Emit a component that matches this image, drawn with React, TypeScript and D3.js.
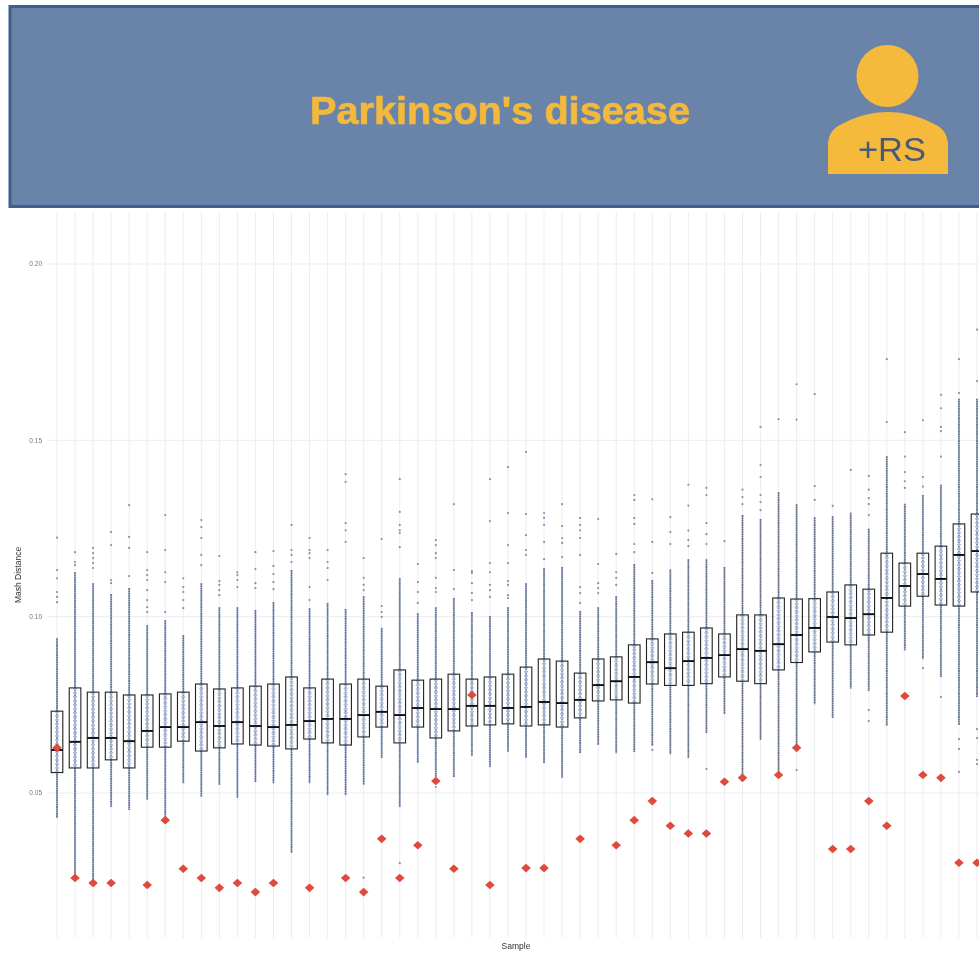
import React from "react";
import * as d3 from "d3";

const tickLabels = ["0.20", "0.15", "0.10", "0.05"];
const tickValues = [0.2, 0.15, 0.1, 0.05];

const q3 = [.0732,.0798,.0786,.0786,.0778,.0778,.0781,.0786,.0809,.0795,.0798,.0803,.0809,.0829,.0798,.0823,
  .0809,.0823,.0803,.0849,.0820,.0823,.0837,.0823,.0829,.0837,.0857,.0880,.0874,.0840,.0880,.0886,.0920,.0937,
  .0951,.0956,.0968,.0951,.1005,.1005,.1053,.1050,.1051,.1070,.1090,.1078,.1180,.1152,.1180,.1200,.1263,.1291];
const medians = [.0622,.0645,.0656,.0656,.0647,.0676,.0687,.0687,.0701,.0690,.0701,.0690,.0687,.0693,.0704,.0710,
  .0710,.0721,.0730,.0721,.0741,.0738,.0738,.0747,.0747,.0741,.0744,.0758,.0755,.0764,.0806,.0817,.0829,.0871,
  .0854,.0874,.0883,.0891,.0908,.0903,.0922,.0948,.0968,.0999,.0996,.1007,.1053,.1087,.1121,.1107,.1175,.1186];
const q1 = [.0558,.0571,.0571,.0594,.0571,.0630,.0630,.0647,.0619,.0628,.0639,.0636,.0633,.0625,.0653,.0642,
  .0636,.0659,.0687,.0642,.0687,.0656,.0676,.0690,.0693,.0696,.0690,.0693,.0687,.0713,.0761,.0764,.0755,.0809,
  .0805,.0805,.0810,.0829,.0817,.0810,.0849,.0870,.0900,.0928,.0920,.0948,.0956,.1030,.1058,.1033,.1030,.1070];
const whiskerHigh = [.0939,.1126,.1095,.1064,.1081,.0976,.0990,.0948,.1095,.1027,.1027,.1019,.1041,.1132,.1024,.1039,
  .1022,.1058,.0968,.1109,.1010,.1027,.1053,.1013,.1002,.1027,.1095,.1138,.1141,.1016,.1027,.1058,.1149,.1104,
  .1134,.1163,.1163,.1141,.1288,.1277,.1353,.1319,.1282,.1285,.1295,.1249,.1455,.1320,.1345,.1374,.1618,.1618];
const whiskerLow = [.0429,.0259,.0245,.0460,.0452,.0480,.0423,.0528,.0489,.0523,.0486,.0531,.0528,.0330,.0528,.0494,
  .0494,.0523,.0599,.0460,.0585,.0545,.0545,.0605,.0574,.0616,.0599,.0585,.0543,.0613,.0636,.0613,.0616,.0633,
  .0610,.0599,.0670,.0724,.0551,.0650,.0551,.0628,.0752,.0713,.0796,.0789,.0691,.0905,.0880,.0829,.0693,.0772];
const redDiamonds: (number | null)[] = [.0628,.0259,.0245,.0245,null,.0239,.0423,.0285,.0259,.0231,.0245,.0219,.0245,null,.0231,null,
  .0259,.0219,.0370,.0259,.0352,.0534,.0285,.0778,.0239,null,.0287,.0287,null,.0370,null,.0352,.0423,.0477,
  .0407,.0385,.0385,.0532,.0543,null,.0551,.0628,null,.0341,.0341,.0477,.0407,.0775,.0551,.0543,.0302,.0302];
const outliers: number[][] = [
  [.1224,.1132,.1109,.1070,.1056,.1041],[.1183,.1155,.1146],[.1195,.1180,.1166,.1152,.1138],[.1240,.1203,.1104,.1095],
  [.1316,.1226,.1195,.1115],[.1183,.1132,.1118,.1104,.1075,.1047,.1027,.1013],[.1288,.1189,.1126,.1098,.1013],
  [.1109,.1084,.1070,.1047,.1024],[.1274,.1254,.1223,.1175,.1146],[.1172,.1101,.1090,.1075,.1061],[.1126,.1118,.1104,.1084],
  [.1183,.1135,.1095,.1081],[.1186,.1144,.1121,.1098,.1078],[.1260,.1189,.1175,.1155],[.1223,.1189,.1180,.1166,.1084,.1047],
  [.1189,.1155,.1138,.1104],[.1404,.1382,.1265,.1245,.1212],[.1166,.1110,.1090,.1075,.0260],[.1220,.1030,.1013,.0999],
  [.1390,.1297,.1260,.1245,.1237,.1197,.0301],[.1149,.1098,.1070,.1039],[.1217,.1203,.1180,.1166,.1110,.1081,.1070,.0517],
  [.1319,.1132,.1078],[.1129,.1124,.1095,.1067,.1047],[.1390,.1271,.1152,.1126,.1090,.1075,.1056],
  [.1424,.1294,.1203,.1152,.1101,.1090,.1061,.1053],[.1467,.1291,.1231,.1189,.1175],[.1294,.1280,.1260,.1212,.1163],
  [.1319,.1257,.1223,.1209,.1169],[.1280,.1260,.1245,.1223,.1175,.1084,.1067,.1039],[.1277,.1149,.1095,.1081,.1067],
  [.1178,.1126,.1110,.1090],[.1345,.1331,.1280,.1263,.1206,.1183],[.1333,.1212,.1124,.0622],[.1282,.1240,.1206],
  [.1374,.1315,.1244,.1217,.1200],[.1365,.1345,.1265,.1234,.1206,.0568],[.1214],[.1360,.1339,.1319],
  [.1538,.1430,.1396,.1345,.1325,.1302],[.1560],[.1659,.1559,.0565],[.1631,.1370,.1331],[.1314],[.1416],
  [.1399,.1360,.1336,.1319,.1288,.0735,.0704],[.1730,.1552],[.1523,.1454,.1410,.1384,.1365],[.1557,.1396,.1369,.0854],
  [.1629,.1591,.1538,.1526,.1454,.0772],[.1730,.1634,.0653,.0625,.0560],[.1814,.1668,.0681,.0656,.0594,.0582],
];

const sampleIndex = d3.range(medians.length);
const x = d3.scaleLinear().domain([0, sampleIndex.length - 1]).range([57, 977]);
const y = d3.scaleLinear().domain([0.05, 0.2]).range([793, 264]);
const grid = "#ecedf1";
const boxW = 11.6;

export default function App() {
  const diamond = d3.symbol(d3.symbolDiamond2, 58)() as string;
  return (
    <svg width={979} height={954} style={{ position: "absolute", left: 0, top: 0, display: "block", background: "#fff" }}>
      <defs>
        <filter id="soft" x="-2%" y="-2%" width="104%" height="104%">
          <feGaussianBlur stdDeviation="0.6" />
        </filter>
      </defs>
      <g filter="url(#soft)">
        <rect x={10} y={6.5} width={1000} height={200} fill="#6b83a8" stroke="#3f5f8f" strokeWidth={3} />
        <text x={500} y={124} textAnchor="middle" textLength={380} lengthAdjust="spacingAndGlyphs" fontFamily="Liberation Sans" fontWeight={700} fontSize={38} fill="#f2b93c" stroke="#f2b93c" strokeWidth={0.7}>Parkinson's disease</text>
        <circle cx={887.5} cy={76} r={31} fill="#f5b93a" />
        <path d="M828 174 V144 C829 132 834 127 846 122 C860 115 875 112 888 112 C901 112 916 115 930 122 C942 127 947 132 948 144 V174 Z" fill="#f5b93a" />
        <text x={892} y={161} textAnchor="middle" textLength={68} lengthAdjust="spacingAndGlyphs" fontFamily="Liberation Sans" fontSize={33} fill="#4a5a78">+RS</text>
      </g>

      <g filter="url(#soft)">
        {tickValues.map((t, i) => (
          <g key={t}>
            <line x1={47} x2={979} y1={y(t)} y2={y(t)} stroke={grid} strokeWidth={1} />
            <text x={42} y={y(t) + 2.2} textAnchor="end" fontFamily="Liberation Sans" fontSize={6.5} fill="#777">{tickLabels[i]}</text>
          </g>
        ))}
        {sampleIndex.map((i) => (
          <line key={i} x1={x(i)} x2={x(i)} y1={212} y2={938} stroke={grid} strokeWidth={1} />
        ))}
        {sampleIndex.map((i) => {
          const cx = x(i);
          return (
            <g key={i}>
              <line x1={cx} x2={cx} y1={y(whiskerHigh[i])} y2={y(whiskerLow[i])} stroke="#7f93bd" strokeWidth={2} strokeDasharray="1.8 0.5" />
              <line x1={cx} x2={cx} y1={y(q3[i])} y2={y(q1[i])} stroke="#aebbd8" strokeWidth={4} strokeDasharray="1.5 2.5" />
              <line x1={cx} x2={cx} y1={y(whiskerHigh[i])} y2={y(q3[i])} stroke="#333" strokeWidth={0.7} strokeOpacity={0.55} />
              <line x1={cx} x2={cx} y1={y(q1[i])} y2={y(whiskerLow[i])} stroke="#333" strokeWidth={0.7} strokeOpacity={0.55} />
              <rect x={cx - boxW / 2} y={y(q3[i])} width={boxW} height={y(q1[i]) - y(q3[i])} fill="none" stroke="#222" strokeWidth={1.1} />
              <line x1={cx - boxW / 2} x2={cx + boxW / 2} y1={y(medians[i])} y2={y(medians[i])} stroke="#111" strokeWidth={1.9} />
              {outliers[i].map((v, k) => (
                <circle key={k} cx={cx} cy={y(v)} r={1.1} fill="#8690ab" />
              ))}
            </g>
          );
        })}
        {sampleIndex.map((i) => {
          const v = redDiamonds[i];
          if (v === null) return null;
          return <path key={i} d={diamond} transform={`translate(${x(i)},${y(v)}) scale(1,0.9)`} fill="#e0483a" />;
        })}
        <text transform="translate(21,575) rotate(-90)" textAnchor="middle" fontFamily="Liberation Sans" fontSize={8.5} fill="#333">Mash Distance</text>
        <text x={516} y={949} textAnchor="middle" fontFamily="Liberation Sans" fontSize={8.5} fill="#333">Sample</text>
      </g>
    </svg>
  );
}
